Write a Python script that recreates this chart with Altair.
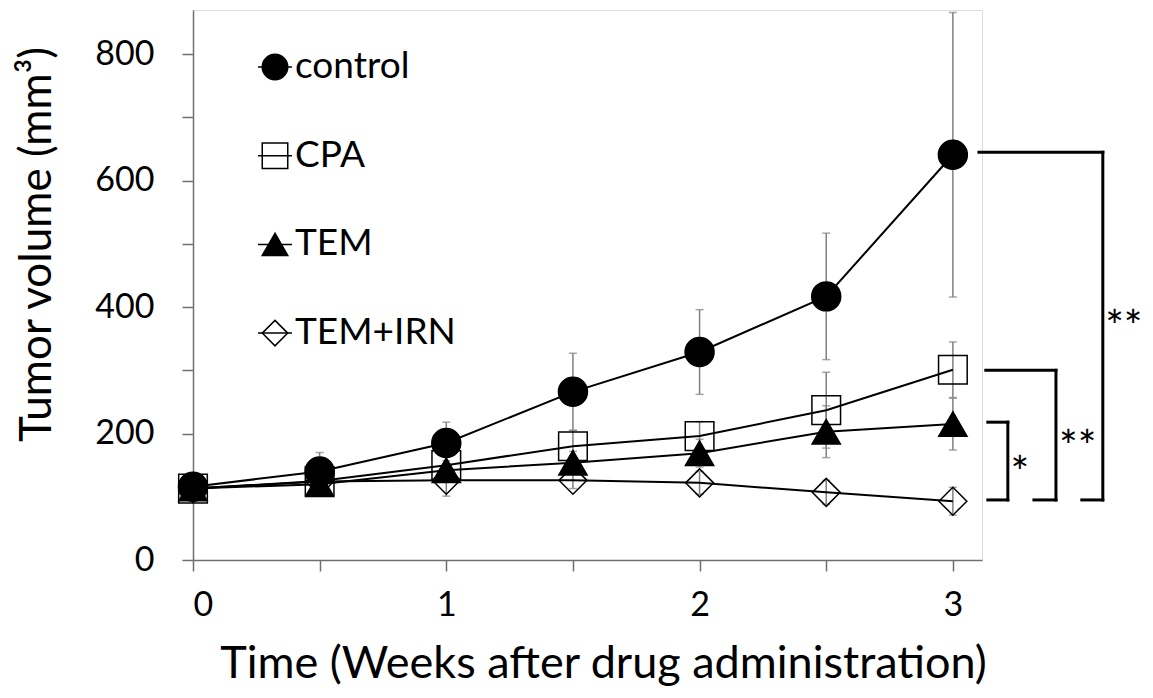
import altair as alt
import pandas as pd

weeks = [0, 0.5, 1, 1.5, 2, 2.5, 3]
groups = ["control", "CPA", "TEM", "TEM+IRN"]

control = [116, 140, 185, 266, 329, 417, 641]
control_err = [8, 30, 33, 61, 67, 100, 225]
cpa = [113, 125, 150, 180, 196, 237, 301]
cpa_err = [8, 12, 15, 25, 23, 60, 44]
tem = [113, 120, 142, 154, 169, 203, 215]
tem_err = [5, 8, 15, 18, 22, 41, 41]
irn = [113, 124, 126, 126, 122, 107, 93]
irn_err = [5, 8, 25, 13, 18, 19, 22]

y_ticks = [0, 100, 200, 300, 400, 500, 600, 700, 800]
x_ticks = [0, 0.5, 1, 1.5, 2, 2.5, 3]

# significance brackets (weeks / mm3)
bracket_top = [218, 300, 645]
bracket_bottom = [95, 95, 95]
bracket_x_top_start = [3.138, 3.130, 3.103]
bracket_x_vert = [3.217, 3.407, 3.592]
bracket_x_bot_start = [3.138, 3.320, 3.509]
bracket_label = ["*", "**", "**"]
bracket_label_x = [3.264, 3.493, 3.675]
bracket_label_y = [153, 195, 384]

series = {"control": (control, control_err), "CPA": (cpa, cpa_err),
          "TEM": (tem, tem_err), "TEM+IRN": (irn, irn_err)}
rows = []
for gi, g in enumerate(groups):
    vals, errs = series[g]
    for w, v, e in zip(weeks, vals, errs):
        rows.append({"week": w, "group": g, "order": gi, "value": v,
                     "lo": v - e, "hi": v + e})
df = pd.DataFrame(rows)

seg = []
for i in range(3):
    seg.append({"x": bracket_x_top_start[i], "x2": bracket_x_vert[i], "y": bracket_top[i], "y2": bracket_top[i]})
    seg.append({"x": bracket_x_vert[i], "x2": bracket_x_vert[i], "y": bracket_top[i], "y2": bracket_bottom[i]})
    seg.append({"x": bracket_x_bot_start[i], "x2": bracket_x_vert[i], "y": bracket_bottom[i], "y2": bracket_bottom[i]})
seg_df = pd.DataFrame(seg)
lab_df = pd.DataFrame({"x": bracket_label_x, "y": bracket_label_y, "t": bracket_label})

leg_df = pd.DataFrame({"group": groups, "idx": list(range(len(groups)))})

FONT = "Lato"
AXC = "#6f6f6f"

xs = alt.Scale(domain=[0, 3.115], nice=False, zero=False)
ys = alt.Scale(domain=[0, 870], nice=False)

x_axis = alt.Axis(values=x_ticks, labelExpr="datum.value % 1 == 0 ? format(datum.value, 'd') : ''",
                  title="Time (Weeks after drug administration)", grid=False,
                  domainColor=AXC, tickColor=AXC, domainWidth=1.5, tickWidth=1.5, tickSize=11,
                  labelFont=FONT, labelFontSize=34, labelColor="black", labelPadding=17,
                  titleFont=FONT, titleFontSize=45, titleFontWeight="normal", titleColor="black",
                  titleX=410, titleY=103, titleAlign="center", titleBaseline="middle")
y_axis = alt.Axis(values=y_ticks, labelExpr="datum.value % 200 == 0 ? datum.label : ''",
                  title="Tumor volume (mm³)", grid=False,
                  domainColor=AXC, tickColor=AXC, domainWidth=1.5, tickWidth=1.5, tickSize=11,
                  labelFont=FONT, labelFontSize=34, labelColor="black", labelPadding=28,
                  titleFont=FONT, titleFontSize=44, titleFontWeight="normal", titleColor="black",
                  titleX=-156, titleY=234, titleAlign="center", titleBaseline="middle", titleAngle=270)

base = alt.Chart(df)

err = base.mark_rule(color="#808080", strokeWidth=1.5).encode(
    x=alt.X("week:Q", scale=xs, axis=x_axis),
    y=alt.Y("lo:Q", scale=ys, axis=y_axis),
    y2="hi:Q")
cap_hi = base.mark_tick(color="#808080", thickness=1.5, size=8, orient="horizontal").encode(
    x="week:Q", y="hi:Q")
cap_lo = base.mark_tick(color="#808080", thickness=1.5, size=8, orient="horizontal").encode(
    x="week:Q", y="lo:Q")

lines = base.mark_line(color="black", strokeWidth=2).encode(
    x="week:Q", y="value:Q", detail="group:N")

shape_scale = alt.Scale(domain=groups, range=["circle", "square", "triangle-up", "diamond"])
fill_scale = alt.Scale(domain=groups, range=["black", "transparent", "black", "transparent"])

points = base.mark_point(stroke="black", strokeWidth=1.5, opacity=1).encode(
    x="week:Q", y="value:Q",
    shape=alt.Shape("group:N", scale=shape_scale, legend=None),
    fill=alt.Fill("group:N", scale=fill_scale, legend=None),
    size=alt.Size("group:N", scale=alt.Scale(domain=groups, range=[840, 780, 960, 800]), legend=None),
    order=alt.Order("order:Q"))

brackets = alt.Chart(seg_df).mark_rule(color="black", strokeWidth=3, strokeCap="square", clip=False).encode(
    x="x:Q", x2="x2:Q", y="y:Q", y2="y2:Q")
stars = alt.Chart(lab_df).mark_text(font=FONT, fontSize=44, color="black", align="center",
                                    baseline="alphabetic", dy=25, clip=False).encode(
    x="x:Q", y="y:Q", text="t:N")

leg_y = alt.Y("py:Q", scale=None, axis=None)
leg_base = alt.Chart(leg_df).transform_calculate(py="57 + datum.idx * 88.7")
leg_rule = leg_base.mark_rule(color="black", strokeWidth=1.5).encode(
    x=alt.value(65), x2=alt.value(99), y=leg_y)
leg_pts = leg_base.mark_point(stroke="black", strokeWidth=1.5, opacity=1, size=650).encode(
    x=alt.value(82), y=leg_y,
    shape=alt.Shape("group:N", scale=shape_scale, legend=None),
    fill=alt.Fill("group:N", scale=fill_scale, legend=None))
leg_txt = leg_base.mark_text(font=FONT, fontSize=37, color="black", align="left", baseline="middle").encode(
    x=alt.value(102), y=leg_y, text="group:N")

chart = alt.layer(err, cap_hi, cap_lo, lines, points, brackets, stars, leg_rule, leg_pts, leg_txt).properties(
    width=789, height=550,
    autosize=alt.AutoSizeParams(type="none"),
    padding={"left": 185, "top": 2, "right": 163, "bottom": 130},
).configure_view(stroke=None).configure(background="white")

chart.save("out.html", embed_options={"renderer": "svg", "actions": False})
